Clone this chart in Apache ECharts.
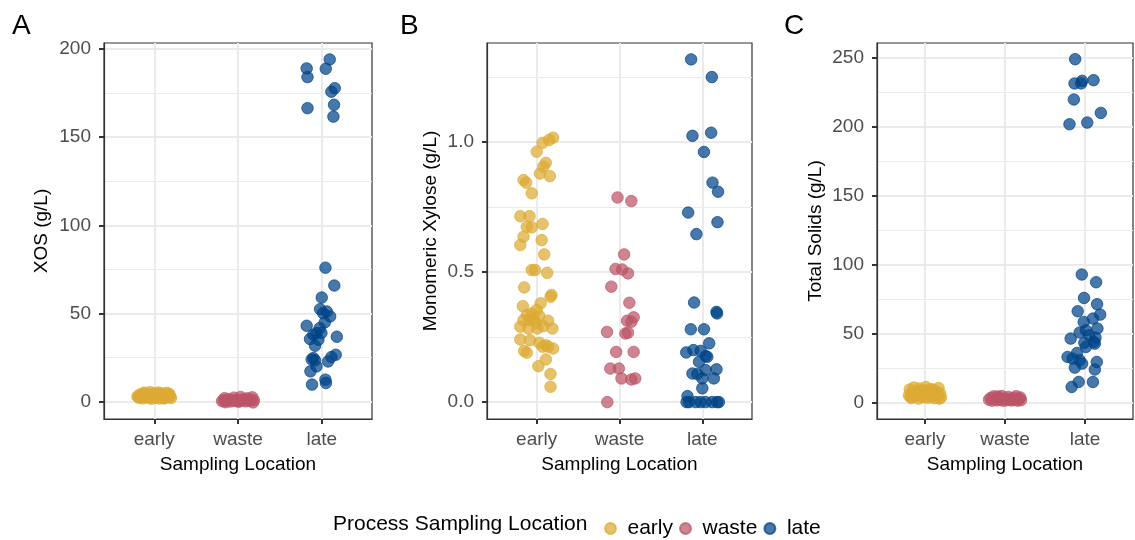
<!DOCTYPE html>
<html><head><meta charset="utf-8">
<script src="https://cdn.jsdelivr.net/npm/echarts@6/dist/echarts.min.js"></script>
<style>html,body{margin:0;padding:0;background:#fff}#c{width:1135px;height:540px}</style>
</head><body><div id="c"></div>
<script>
// ---------- data ----------
const categories = ['early', 'waste', 'late'];
const legendTitle = 'Process Sampling Location';
const xTitle = 'Sampling Location';
const panelLetters = ['A', 'B', 'C'];
const yTitles = ['XOS (g/L)', 'Monomeric Xylose (g/L)', 'Total Solids (g/L)'];
const yTicksA = [0, 50, 100, 150, 200];
const yMinorA = [25, 75, 125, 175];
const yTicksB = [0, 0.5, 1.0];
const yMinorB = [0.25, 0.75, 1.25];
const yTicksC = [0, 50, 100, 150, 200, 250];
const yMinorC = [25, 75, 125, 175, 225];

// each point: [horizontal jitter from category centre, value]
const xosEarly = [[-0.2,3.1],[-0.18,2.4],[-0.17,4.2],[-0.15,3.5],[-0.14,2.0],[-0.12,5.2],[-0.11,3.0],[-0.1,2.6],[-0.08,4.6],[-0.07,3.8],[-0.06,2.2],[-0.05,5.5],[-0.04,3.3],[-0.03,1.8],[-0.02,4.0],[-0.01,2.9],[0,5.0],[0.01,3.6],[0.02,2.3],[0.03,4.4],[0.04,3.0],[0.05,5.3],[0.06,1.9],[0.07,3.9],[0.08,2.7],[0.09,4.8],[0.1,3.2],[0.11,2.1],[0.12,4.1],[0.13,3.4],[0.14,2.5],[0.15,5.1],[0.16,3.7],[0.17,2.8],[0.18,4.5],[0.19,3.0],[0.2,2.2],[-0.16,3.9],[-0.09,2.8],[0.0,3.4],[0.08,3.1],[-0.13,4.8],[0.12,2.0],[-0.19,2.6],[0.18,3.6]];
const xosWaste = [[-0.19,0.4],[-0.17,1.0],[-0.15,-0.2],[-0.13,0.7],[-0.11,1.5],[-0.09,0.2],[-0.07,0.9],[-0.05,2.4],[-0.03,0.5],[-0.01,1.2],[0.01,0.1],[0.03,2.8],[0.05,0.8],[0.07,1.6],[0.09,0.3],[0.11,2.0],[0.13,0.6],[0.15,1.3],[0.17,2.6],[0.19,0.9],[0.18,-0.3],[-0.16,2.1],[0.0,0.4]];
const xosLate = [[-0.18,188.9],[-0.17,184.0],[0.095,194.0],[0.048,188.7],[0.155,177.7],[0.115,175.7],[-0.17,166.4],[0.147,168.3],[0.139,161.6],
  [0.044,76.0],[0.15,65.9],[0,59.1],[-0.02,52.5],[0.06,51.2],[0.1,48.4],[0.016,50.3],[-0.18,43.1],[0.036,45.0],[-0.024,41.8],[-0.063,39.0],[-0.1,38.0],[-0.14,35.6],[0.18,36.9],[-0.04,35.2],[-0.08,31.8],[-0.1,24.8],[-0.08,23.5],[0.167,26.7],[0.115,25.4],[0.075,22.9],[-0.063,20.1],[-0.135,17.3],[-0.116,9.8],[0.044,12.6],[0.05,10.7],[-0.004,39.0],[-0.12,24.0]];

const xylEarly = [[0.198,1.017],[0.15,1.008],[0.071,0.997],[0,0.963],[0.11,0.92],[0.08,0.905],[0.04,0.879],[0.159,0.869],[-0.159,0.854],[-0.127,0.844],[-0.06,0.803],[-0.198,0.715],[-0.087,0.715],[-0.119,0.674],[-0.06,0.672],[0.071,0.685],[-0.159,0.636],[-0.198,0.604],[0.06,0.623],[0.091,0.568],[-0.06,0.508],[-0.02,0.508],[0.127,0.497],[-0.151,0.441],[0.179,0.412],[0.167,0.405],[-0.167,0.369],[0.048,0.38],[0,0.354],[-0.06,0.341],[-0.119,0.335],[-0.04,0.322],[0.032,0.331],[-0.087,0.315],[-0.159,0.315],[-0.008,0.305],[0.139,0.313],[-0.198,0.29],[-0.099,0.283],[0.008,0.283],[0.19,0.283],[0.079,0.292],[-0.198,0.241],[-0.079,0.238],[0.032,0.228],[0.111,0.219],[0.198,0.206],[0.139,0.213],[0.071,0.213],[-0.151,0.197],[-0.119,0.19],[0.111,0.164],[0.02,0.138],[0.167,0.108],[0.167,0.059]];
const xylWaste = [[-0.024,0.787],[0.143,0.773],[0.056,0.568],[-0.048,0.512],[0.032,0.51],[0.103,0.495],[-0.099,0.444],[0.119,0.382],[0.171,0.326],[0.091,0.313],[0.143,0.309],[0.103,0.267],[-0.151,0.27],[-0.04,0.193],[0.171,0.193],[-0.111,0.129],[-0.008,0.129],[0.024,0.091],[0.143,0.087],[0.19,0.091],[-0.147,0],[0.071,0.264]];
const xylLate = [[-0.135,1.318],[0.115,1.25],[-0.119,1.024],[0.107,1.036],[0.02,0.962],[0.123,0.844],[0.19,0.809],[-0.171,0.729],[0.183,0.692],[-0.071,0.646],[-0.099,0.383],[0.171,0.347],[0.178,0.341],[-0.139,0.28],[0.02,0.28],[0.083,0.226],[-0.194,0.191],[-0.107,0.2],[-0.02,0.197],[0.04,0.177],[-0.04,0.155],[0.06,0.174],[-0.119,0.11],[-0.06,0.108],[0.04,0.123],[0.171,0.126],[0.139,0.091],[0,0.091],[0,0.053],[-0.179,0.023],[-0.159,0],[-0.079,0],[-0.02,0],[0.04,0],[0.119,0],[0.178,0],[0.2,0],[-0.19,0]];

const tsEarly = [[-0.2,5.5],[-0.19,9.8],[-0.17,3.6],[-0.16,7.2],[-0.14,11.2],[-0.13,4.8],[-0.11,8.3],[-0.1,6.0],[-0.08,3.2],[-0.07,10.5],[-0.05,5.2],[-0.04,7.8],[-0.02,4.1],[-0.01,9.0],[0,6.5],[0.01,11.5],[0.03,3.8],[0.04,8.6],[0.05,5.8],[0.07,10.1],[0.08,4.4],[0.09,7.0],[0.11,9.5],[0.12,3.5],[0.13,6.2],[0.15,8.0],[0.16,4.9],[0.17,10.8],[0.19,6.8],[0.2,4.0],[0.18,3.1],[-0.12,6.6],[0.06,7.5],[-0.06,8.9],[0.1,5.4],[-0.18,4.3]];
const tsWaste = [[-0.2,2.4],[-0.18,3.6],[-0.16,1.7],[-0.14,4.8],[-0.12,2.9],[-0.1,1.9],[-0.08,3.9],[-0.06,2.2],[-0.04,5.0],[-0.02,1.6],[0,3.2],[0.02,2.0],[0.04,4.4],[0.06,2.6],[0.08,1.8],[0.1,3.7],[0.12,2.3],[0.14,4.9],[0.16,1.7],[0.18,3.0],[0.2,2.1],[0.19,4.0],[-0.09,4.7]];
const tsLate = [[-0.123,248.9],[-0.131,231.3],[-0.036,233.2],[-0.048,231.3],[0.107,233.7],[-0.139,219.7],[0.198,210.0],[-0.194,201.8],[0.028,203.0],
  [-0.04,93.0],[0.139,87.4],[-0.012,76.0],[0.151,71.5],[-0.091,66.4],[0.19,64.0],[0.099,61.1],[-0.016,58.7],[0.155,53.9],[-0.067,51.0],[0.012,52.6],[0.052,49.0],[-0.179,46.6],[0.131,47.3],[0.111,44.2],[-0.008,43.5],[0.123,43.0],[-0.099,36.2],[-0.218,33.3],[-0.155,32.1],[-0.067,30.9],[0.147,29.7],[-0.036,28.5],[-0.127,25.6],[0.123,24.2],[-0.079,15.2],[0.099,15.2],[-0.167,11.6],[0.012,40.6]];

// ---------- layout / style ----------
const FONT = 'Liberation Sans, Arial, sans-serif';
const colors = ['#DDAA33', '#BB5566', '#004488'];
const panels = [
  { groups: [xosEarly, xosWaste, xosLate], ticks: yTicksA, minor: yMinorA, min: -9.7, max: 203.3, left: 104, width: 268, nameGap: 53, fmt: v => String(v) },
  { groups: [xylEarly, xylWaste, xylLate], ticks: yTicksB, minor: yMinorB, min: -0.065, max: 1.381, left: 487, width: 265, nameGap: 47, fmt: v => v.toFixed(1) },
  { groups: [tsEarly, tsWaste, tsLate], ticks: yTicksC, minor: yMinorC, min: -11.6, max: 260.6, left: 877, width: 256, nameGap: 52, fmt: v => String(v) }
];
const letterX = [12, 400, 784];
const axisLine = { show: true, onZero: false, lineStyle: { color: '#333333', width: 1.2 } };

const grid = [], xAxis = [], yAxis = [], series = [], graphic = [];
panels.forEach((p, i) => {
  grid.push({ left: p.left, width: p.width, top: 43, height: 376, show: true, borderColor: '#333333', borderWidth: 1.2, backgroundColor: 'transparent', containLabel: false });
  xAxis.push({
    type: 'value', gridIndex: i, min: 0.4, max: 3.6, position: 'bottom',
    name: xTitle, nameLocation: 'middle', nameGap: 36,
    nameTextStyle: { color: '#000', fontSize: 19, fontFamily: FONT },
    axisLine,
    axisTick: { show: true, inside: false, length: 5, lineStyle: { color: '#333333', width: 2 }, customValues: [1, 2, 3] },
    axisLabel: { customValues: [1, 2, 3], formatter: v => categories[Math.round(v) - 1], color: '#4D4D4D', fontSize: 19, fontFamily: FONT, margin: 11 },
    splitLine: { show: true, lineStyle: { color: '#EBEBEB', width: 2 } }
  });
  yAxis.push({
    type: 'value', gridIndex: i, min: p.min, max: p.max, position: 'left',
    name: yTitles[i], nameLocation: 'middle', nameGap: p.nameGap, nameRotate: 90,
    nameTextStyle: { color: '#000', fontSize: 19, fontFamily: FONT },
    axisLine,
    axisTick: { show: true, inside: false, length: 5, lineStyle: { color: '#333333', width: 2 }, customValues: p.ticks },
    axisLabel: { customValues: p.ticks, formatter: p.fmt, color: '#4D4D4D', fontSize: 19, fontFamily: FONT, margin: 13 },
    splitLine: { show: true, lineStyle: { color: '#EBEBEB', width: 2 } }
  });
  yAxis.push({
    type: 'value', gridIndex: i, min: p.min, max: p.max, position: 'left',
    axisLine: { show: false, onZero: false },
    axisTick: { show: false, customValues: p.minor },
    axisLabel: { show: false, customValues: p.minor },
    splitLine: { show: true, lineStyle: { color: '#EBEBEB', width: 1 } }
  });
  p.groups.forEach((arr, g) => {
    series.push({
      type: 'scatter', name: categories[g], xAxisIndex: i, yAxisIndex: i * 2,
      data: arr.map(([dx, y]) => [g + 1 + dx, y]),
      symbol: 'circle', symbolSize: 11.5,
      itemStyle: { color: colors[g], opacity: 0.72, borderColor: colors[g], borderWidth: 1 },
      emphasis: { disabled: true }, animation: false
    });
  });
  graphic.push({ type: 'text', left: letterX[i], top: 12, style: { text: panelLetters[i], font: '28px ' + FONT, fill: '#000' } });
});
graphic.push({ type: 'text', left: 333, top: 514, style: { text: legendTitle, font: '21px ' + FONT, fill: '#000' } });

const chart = echarts.init(document.getElementById('c'), null, { renderer: 'canvas' });
chart.setOption({
  backgroundColor: '#fff',
  animation: false,
  textStyle: { fontFamily: FONT },
  grid, xAxis, yAxis, series, graphic,
  legend: {
    data: categories, left: 599, top: 513, itemWidth: 24, itemHeight: 11, itemGap: 6,
    icon: 'circle', textStyle: { fontSize: 21, color: '#000', fontFamily: FONT }
  }
});
</script></body></html>
